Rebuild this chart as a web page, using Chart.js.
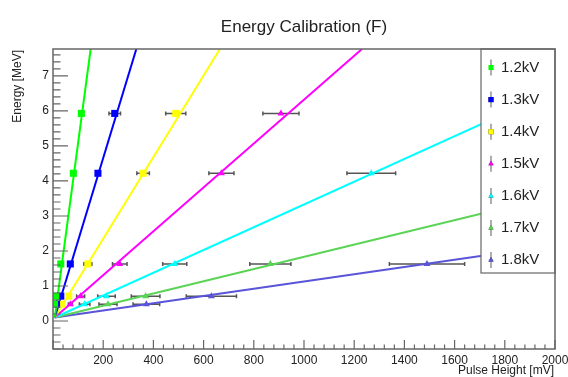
<!DOCTYPE html>
<html>
<head>
<meta charset="utf-8">
<script src="https://cdn.jsdelivr.net/npm/chart.js@4.4.0/dist/chart.umd.min.js"></script>
<style>
  html, body { margin: 0; padding: 0; background: #fff; }
</style>
</head>
<body>
<canvas id="calib" width="568" height="377"></canvas>
<script>
// Series (one per high voltage)
const seriesLabels = ["1.2kV", "1.3kV", "1.4kV", "1.5kV", "1.6kV", "1.7kV", "1.8kV"];
const seriesColors = ["#00ff00", "#0000ff", "#ffff00", "#ff00ff", "#00ffff", "#59d454", "#5954d9"];
const seriesMarkers = ["rect", "rect", "rect", "triangle", "triangle", "triangle", "triangle"];

// Energy [MeV] of each measured point
const energy12 = [5.93, 4.22, 1.63, 0.71, 0.48];
const energy13 = [5.93, 4.22, 1.63, 0.71, 0.48];
const energy14 = [5.93, 4.22, 1.63, 0.71, 0.48];
const energy15 = [5.93, 4.22, 1.63, 0.71, 0.48];
const energy16 = [4.22, 1.63, 0.71, 0.48];
const energy17 = [1.63, 0.71, 0.48];
const energy18 = [1.63, 0.71, 0.48];

// Pulse height [mV] and its error
const pulse12 = [113, 81, 31, 11, 6];
const pulse13 = [246, 179, 69, 31, 14];
const pulse14 = [489, 359, 139, 63, 35];
const pulse15 = [908, 671, 266, 110, 69];
const pulse16 = [1268, 485, 213, 126];
const pulse17 = [866, 369, 219];
const pulse18 = [1490, 631, 372];

const err12 = [3, 3, 2, 2, 2];
const err13 = [23, 8, 4, 3, 2];
const err14 = [40, 25, 16, 6, 4];
const err15 = [72, 50, 29, 16, 8];
const err16 = [97, 48, 35, 21];
const err17 = [82, 57, 36];
const err18 = [150, 100, 53];

// Fit lines: start and end point [mV, MeV]
const fitStart = [7, 0.1];
const fitEndX = [150, 332, 665, 1231, 2000, 2000, 2000];
const fitEndY = [7.77, 7.77, 7.77, 7.77, 6.58, 3.58, 2.165];

// Axes
const xMin = 0, xMax = 2000, xMajor = 200, xMinor = 40;
const yMin = -0.8, yMax = 7.77, yMajor = 1, yMinor = 0.2;

const energies = [energy12, energy13, energy14, energy15, energy16, energy17, energy18];
const pulses = [pulse12, pulse13, pulse14, pulse15, pulse16, pulse17, pulse18];
const errors = [err12, err13, err14, err15, err16, err17, err18];

const FONT = '"Liberation Sans", Arial, Helvetica, sans-serif';
const TEXT = "#222";
const FRAME = "#666";

const datasets = [];
seriesLabels.forEach((label, i) => {
  datasets.push({
    label: label + " fit",
    type: "line",
    data: [{ x: fitStart[0], y: fitStart[1] }, { x: fitEndX[i], y: fitEndY[i] }],
    borderColor: seriesColors[i],
    borderWidth: 2,
    pointRadius: 0,
    fill: false,
    order: 2
  });
});
seriesLabels.forEach((label, i) => {
  datasets.push({
    label: label,
    type: "scatter",
    data: pulses[i].map((p, j) => ({ x: p, y: energies[i][j], xErr: errors[i][j] })),
    backgroundColor: seriesColors[i],
    borderColor: seriesColors[i],
    borderWidth: 0,
    pointStyle: seriesMarkers[i],
    pointRadius: seriesMarkers[i] === "rect" ? 5 : 4,
    order: 1
  });
});

// ROOT style frame, inward ticks, labels and titles
const rootFrame = {
  id: "rootFrame",
  beforeDatasetsDraw(chart) {
    const { ctx, chartArea: a, scales: { x, y } } = chart;
    ctx.save();
    ctx.beginPath();
    ctx.rect(a.left, a.top, a.right - a.left, a.bottom - a.top);
    ctx.clip();
    // error bars
    ctx.strokeStyle = "#555";
    ctx.lineWidth = 1.5;
    chart.data.datasets.forEach(ds => {
      if (ds.type !== "scatter") return;
      ds.data.forEach(pt => {
        const x0 = x.getPixelForValue(pt.x - pt.xErr);
        const x1 = x.getPixelForValue(pt.x + pt.xErr);
        const py = y.getPixelForValue(pt.y);
        if (x1 - x0 < 4) return;
        ctx.beginPath();
        ctx.moveTo(x0, py); ctx.lineTo(x1, py);
        ctx.moveTo(x0, py - 2); ctx.lineTo(x0, py + 2);
        ctx.moveTo(x1, py - 2); ctx.lineTo(x1, py + 2);
        ctx.stroke();
      });
    });
    ctx.restore();
  },
  afterDatasetsDraw(chart) {
    const { ctx, chartArea: a, scales: { x, y } } = chart;
    ctx.save();

    // legend box
    const lx0 = 481, lx1 = a.right, ly0 = a.top, ly1 = 273;
    ctx.fillStyle = "#fff";
    ctx.fillRect(lx0, ly0, lx1 - lx0, ly1 - ly0);
    ctx.strokeStyle = FRAME;
    ctx.lineWidth = 1.2;
    ctx.strokeRect(lx0, ly0, lx1 - lx0, ly1 - ly0);
    ctx.font = "15px " + FONT;
    ctx.textBaseline = "middle";
    ctx.textAlign = "left";
    seriesLabels.forEach((label, i) => {
      const cy = 67.5 + 32.1 * i;
      const mx = 491;
      ctx.strokeStyle = "#777";
      ctx.lineWidth = 1.2;
      ctx.beginPath();
      ctx.moveTo(mx, cy - 8); ctx.lineTo(mx, cy + 8);
      ctx.stroke();
      Chart.helpers.drawPoint(ctx, {
        pointStyle: seriesMarkers[i],
        radius: seriesMarkers[i] === "rect" ? 3.6 : 3,
        borderWidth: 0,
        rotation: 0
      }, mx, cy);
      ctx.fillStyle = seriesColors[i];
      ctx.fill();
      ctx.fillStyle = TEXT;
      ctx.fillText(label, 501, cy);
    });

    // frame
    ctx.strokeStyle = FRAME;
    ctx.lineWidth = 1.5;
    ctx.strokeRect(a.left, a.top, a.right - a.left, a.bottom - a.top);

    // x ticks
    ctx.lineWidth = 1.2;
    ctx.beginPath();
    for (let v = xMin; v <= xMax + 1e-6; v += xMinor) {
      const px = x.getPixelForValue(v);
      const major = Math.abs(v / xMajor - Math.round(v / xMajor)) < 1e-6;
      ctx.moveTo(px, a.bottom);
      ctx.lineTo(px, a.bottom - (major ? 9 : 4.5));
    }
    // y ticks
    const yStart = Math.ceil(yMin / yMinor) * yMinor;
    for (let v = yStart; v <= yMax + 1e-6; v += yMinor) {
      const py = y.getPixelForValue(v);
      const major = Math.abs(v / yMajor - Math.round(v / yMajor)) < 1e-6;
      ctx.moveTo(a.left, py);
      ctx.lineTo(a.left + (major ? 15 : 7.5), py);
    }
    ctx.stroke();

    // tick labels
    ctx.fillStyle = TEXT;
    ctx.font = "12px " + FONT;
    ctx.textAlign = "center";
    ctx.textBaseline = "middle";
    for (let v = xMajor; v <= xMax + 1e-6; v += xMajor) {
      ctx.fillText(String(Math.round(v)), x.getPixelForValue(v), a.bottom + 12);
    }
    ctx.textAlign = "right";
    for (let v = 0; v <= yMax; v += yMajor) {
      ctx.fillText(String(v), a.left - 4, y.getPixelForValue(v));
    }

    // axis titles
    ctx.textAlign = "right";
    ctx.fillText("Pulse Height [mV]", a.right - 1, 371);
    ctx.save();
    ctx.translate(18, a.top + 1);
    ctx.rotate(-Math.PI / 2);
    ctx.textAlign = "right";
    ctx.fillText("Energy [MeV]", 0, 0);
    ctx.restore();

    // title
    ctx.font = "17px " + FONT;
    ctx.textAlign = "center";
    ctx.fillText("Energy Calibration (F)", (a.left + a.right) / 2, 27);
    ctx.restore();
  }
};

new Chart(document.getElementById("calib"), {
  type: "scatter",
  data: { datasets },
  options: {
    responsive: false,
    animation: false,
    devicePixelRatio: 1,
    layout: { padding: { left: 53, right: 13, top: 49, bottom: 28 } },
    scales: {
      x: { type: "linear", min: xMin, max: xMax, display: false },
      y: { type: "linear", min: yMin, max: yMax, display: false }
    },
    plugins: {
      legend: { display: false },
      title: { display: false },
      tooltip: { enabled: false }
    }
  },
  plugins: [rootFrame]
});
</script>
</body>
</html>
